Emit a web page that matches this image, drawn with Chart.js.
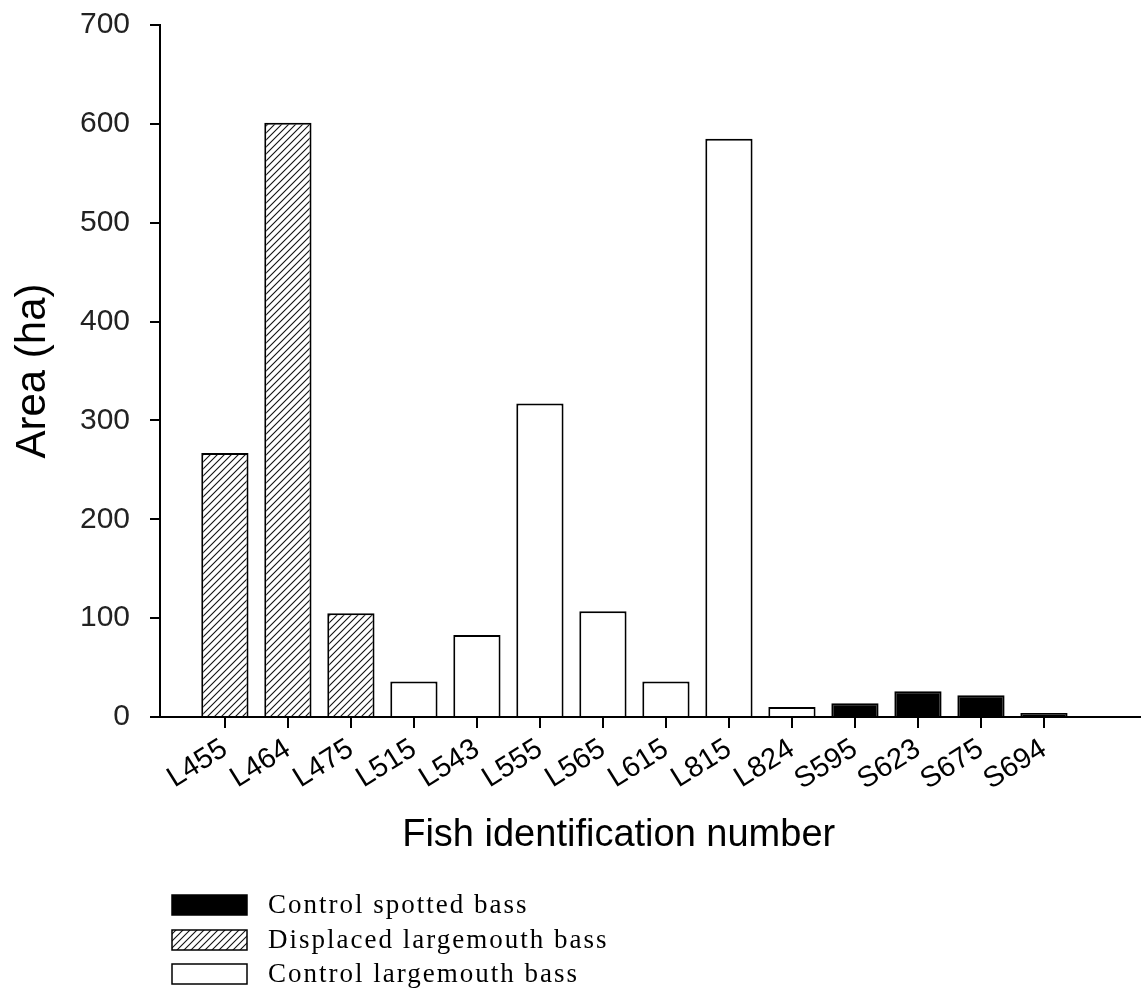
<!DOCTYPE html>
<html>
<head>
<meta charset="utf-8">
<script src="https://cdn.jsdelivr.net/npm/chart.js@4/dist/chart.umd.min.js"></script>
<style>
  html, body { margin: 0; padding: 0; background: #fff; }
  #wrap { width: 1141px; height: 1006px; }
</style>
</head>
<body>
<div id="wrap"><canvas id="chart" width="1141" height="1006"></canvas></div>
<script>
// Fish identification numbers along the x axis
const fishIds = ['L455', 'L464', 'L475', 'L515', 'L543', 'L555', 'L565', 'L615', 'L815', 'L824', 'S595', 'S623', 'S675', 'S694'];
// Home-range area (ha) for each fish
const areaHa = [267, 601, 105, 36, 83, 317, 107, 36, 585, 10, 14, 26, 22, 4];
// Group code for each fish: S = control spotted, D = displaced largemouth, C = control largemouth
const fishGroup = ['D', 'D', 'D', 'C', 'C', 'C', 'C', 'C', 'C', 'C', 'S', 'S', 'S', 'S'];
// Legend order and labels
const groupCodes = ['S', 'D', 'C'];
const groupLabels = ['Control spotted bass', 'Displaced largemouth bass', 'Control largemouth bass'];
// Y axis tick values
const yTicks = [0, 100, 200, 300, 400, 500, 600, 700];

// diagonal hatch fill
function makeHatch() {
  const c = document.createElement('canvas');
  const s = 7;
  c.width = s; c.height = s;
  const g = c.getContext('2d');
  g.fillStyle = '#fff';
  g.fillRect(0, 0, s, s);
  g.strokeStyle = '#111';
  g.lineWidth = 1.1;
  g.beginPath();
  g.moveTo(-1, s + 1); g.lineTo(s + 1, -1);
  g.moveTo(-1, 1); g.lineTo(1, -1);
  g.moveTo(s - 1, s + 1); g.lineTo(s + 1, s - 1);
  g.stroke();
  return g.createPattern(c, 'repeat');
}
const hatch = makeHatch();
const fills = { S: '#000', D: hatch, C: '#fff' };

const datasets = groupCodes.map((code, k) => ({
  label: groupLabels[k],
  data: fishIds.map((id, i) => ({ x: i, y: areaHa[i] })).filter((p, i) => fishGroup[i] === code),
  backgroundColor: fills[code],
  borderColor: '#000',
  borderWidth: 2,
  borderSkipped: 'start'
}));

// Vertical legend and x-axis title under the plot
const footerPlugin = {
  id: 'footer',
  afterDraw(chart) {
    const ctx = chart.ctx;
    const xs = chart.scales.x;
    ctx.save();
    ctx.fillStyle = '#000';
    ctx.font = '38px "Liberation Sans", Arial, sans-serif';
    ctx.textAlign = 'center';
    ctx.textBaseline = 'middle';
    ctx.fillText('Fish identification number', xs.getPixelForValue(6.25), 836);

    const boxX = 172, boxW = 75, boxH = 20, textX = 268;
    const rowY = [905, 940, 974];
    ctx.font = '27px "Liberation Serif", "Times New Roman", serif';
    ctx.textAlign = 'left';
    try { ctx.letterSpacing = '2px'; } catch (e) {}
    chart.data.datasets.forEach((ds, k) => {
      const cy = rowY[k];
      ctx.fillStyle = ds.backgroundColor;
      ctx.fillRect(boxX, cy - boxH / 2, boxW, boxH);
      ctx.strokeStyle = '#000';
      ctx.lineWidth = 1.5;
      ctx.strokeRect(boxX, cy - boxH / 2, boxW, boxH);
      ctx.fillStyle = '#000';
      ctx.fillText(ds.label, textX, cy + 1);
    });
    ctx.restore();
  }
};

new Chart(document.getElementById('chart'), {
  type: 'bar',
  data: { datasets },
  plugins: [footerPlugin],
  options: {
    responsive: false,
    animation: false,
    layout: { padding: { top: 25, right: 0, bottom: 0, left: 0 } },
    plugins: { legend: { display: false }, tooltip: { enabled: false } },
    datasets: { bar: { grouped: false, barPercentage: 0.75, categoryPercentage: 1 } },
    scales: {
      x: {
        type: 'linear',
        offset: false,
        min: -1.03,
        max: 14.54,
        afterBuildTicks: s => { s.ticks = fishIds.map((_, i) => ({ value: i })); },
        afterFit: s => { s.height = 289; s.paddingLeft = 0; s.paddingRight = 0; },
        ticks: {
          autoSkip: false,
          minRotation: 32,
          maxRotation: 32,
          padding: 4,
          color: '#000',
          font: { family: '"Liberation Sans", Arial, sans-serif', size: 29 },
          callback: v => fishIds[v]
        },
        grid: { offset: false, drawOnChartArea: false, drawTicks: true, tickLength: 11, color: '#000', lineWidth: 2 },
        border: { display: true, color: '#000', width: 2 }
      },
      y: {
        min: 0,
        max: 700,
        afterBuildTicks: s => { s.ticks = yTicks.map(v => ({ value: v })); },
        afterFit: s => { s.width = 160; s.paddingTop = 0; s.paddingBottom = 0; },
        ticks: {
          padding: 20,
          color: '#222',
          font: { family: '"Liberation Sans", Arial, sans-serif', size: 30 }
        },
        grid: { drawOnChartArea: false, drawTicks: true, tickLength: 10, color: '#000', lineWidth: 2 },
        border: { display: true, color: '#000', width: 2 },
        title: {
          display: true,
          text: 'Area (ha)',
          color: '#000',
          font: { family: '"Liberation Sans", Arial, sans-serif', size: 42, lineHeight: 1 },
          padding: { top: 12, bottom: 0 }
        }
      }
    }
  }
});
</script>
</body>
</html>
